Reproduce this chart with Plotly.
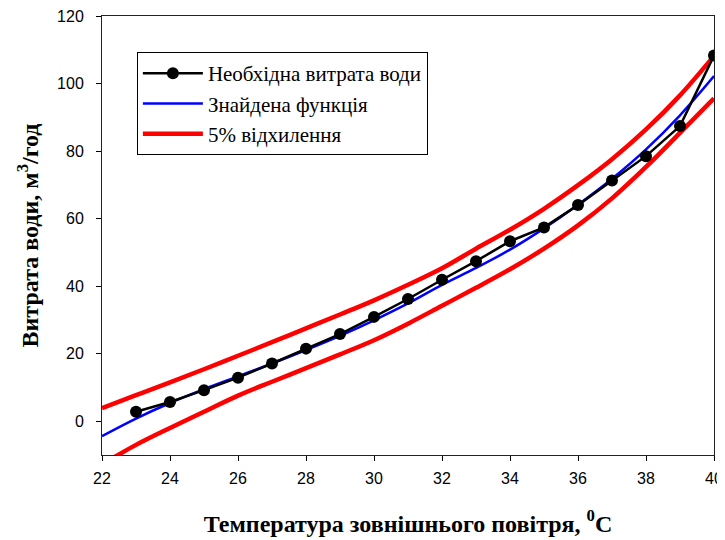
import plotly.graph_objects as go

# Data
x_pts = [23, 24, 25, 26, 27, 28, 29, 30, 31, 32, 33, 34, 35, 36, 37, 38, 39, 40]
y_pts = [2.8, 5.7, 9.2, 12.9, 17.1, 21.5, 25.8, 30.9, 36.2, 41.9, 47.4, 53.3,
         57.4, 64.0, 71.3, 78.5, 87.4, 108.3]

x_fit = [22, 23, 24, 25, 26, 27, 28, 29, 30, 31, 32, 33, 34, 35, 36, 37, 38, 39, 40]
y_fit = [-4.4, 0.8, 5.4, 9.5, 13.3, 17.1, 21.1, 25.3, 29.9, 34.9, 40.4, 45.4,
         50.8, 57.1, 64.1, 71.8, 80.5, 90.6, 102.2]
y_upper = [3.9, 7.7, 11.5, 15.4, 19.4, 23.4, 27.5, 31.6, 35.8, 40.4, 45.3, 51.1,
           56.7, 62.9, 69.9, 77.6, 86.4, 96.5, 108.2]
y_lower = [-12.8, -7.0, -2.0, 2.8, 7.6, 11.7, 15.7, 19.8, 24.0, 28.9, 34.2, 39.5,
           45.0, 51.1, 58.0, 66.0, 75.3, 85.4, 95.6]

x_ticks = [22, 24, 26, 28, 30, 32, 34, 36, 38, 40]
y_ticks = [0, 20, 40, 60, 80, 100, 120]

names = ["Необхідна витрата води", "Знайдена функція", "5% відхилення"]

fig = go.Figure()
fig.add_trace(go.Scatter(x=x_fit, y=y_upper, mode="lines", line=dict(color="#ff0000", width=4.5, shape="spline"),
                         name=names[2], legendrank=3))
fig.add_trace(go.Scatter(x=x_fit, y=y_lower, mode="lines", line=dict(color="#ff0000", width=4.5, shape="spline"),
                         name=names[2], showlegend=False))
fig.add_trace(go.Scatter(x=x_fit, y=y_fit, mode="lines", line=dict(color="#0000ff", width=2.5, shape="spline"),
                         name=names[1], legendrank=2))
fig.add_trace(go.Scatter(x=x_pts, y=y_pts, mode="lines+markers", line=dict(color="#000000", width=2.5),
                         marker=dict(color="#000000", size=12), name=names[0], legendrank=1))

# The page body has an 8px margin, so the figure is sized 8px smaller
fig.update_layout(
    width=717, height=532,
    margin=dict(l=94, r=11, t=8, b=85, autoexpand=False),
    plot_bgcolor="white", paper_bgcolor="white",
    showlegend=True,
    legend=dict(x=0.057, y=0.918, xanchor="left", yanchor="top",
                bgcolor="white", bordercolor="#000000", borderwidth=1,
                font=dict(family="Liberation Serif", size=21, color="#000000"),
                tracegroupgap=0, itemwidth=60),
    xaxis=dict(range=[22, 40], tickvals=x_ticks, ticks="outside", ticklen=5, tickcolor="#000000",
               showline=True, linecolor="#222222", linewidth=1, mirror=True, showgrid=False, zeroline=False,
               automargin=False, ticklabelstandoff=4, ticklabeloverflow="allow",
               tickfont=dict(family="Liberation Sans", size=16, color="#000000"),
               title=dict(text="<b>Температура зовнішнього повітря, <sup>0</sup>C</b>",
                          font=dict(family="Liberation Serif", size=24, color="#000000"), standoff=28)),
    yaxis=dict(range=[-10, 120], tickvals=y_ticks, ticks="outside", ticklen=5, tickcolor="#000000",
               showline=True, linecolor="#222222", linewidth=1, mirror=True, showgrid=False, zeroline=False,
               automargin=False, ticklabelstandoff=9, ticklabeloverflow="allow",
               tickfont=dict(family="Liberation Sans", size=16, color="#000000"),
               title=dict(text="<b>Витрата води, м<sup>3</sup>/год</b>",
                          font=dict(family="Liberation Serif", size=24, color="#000000"), standoff=11)),
)

fig.write_html("out.html")
